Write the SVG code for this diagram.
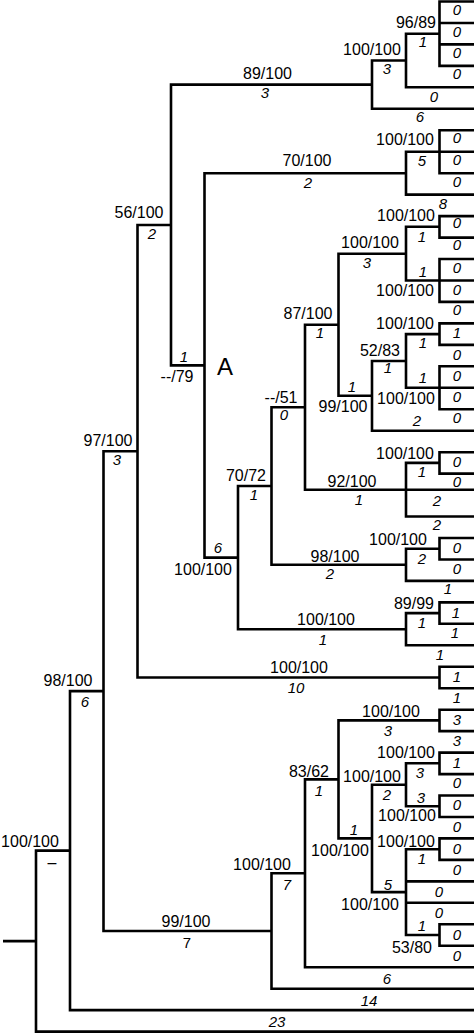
<svg xmlns="http://www.w3.org/2000/svg" width="474" height="1034" viewBox="0 0 474 1034">
<style>
.b{fill:none;stroke:#000;stroke-width:2.6;stroke-linejoin:miter;stroke-linecap:butt}
.s{font-family:"Liberation Sans",Arial,sans-serif;font-size:16px;text-anchor:middle;fill:#000}
.l{font-family:"Liberation Sans",Arial,sans-serif;font-size:15px;font-style:italic;text-anchor:middle;fill:#000}
.u{font-family:"Liberation Sans",Arial,sans-serif;font-size:15px;text-anchor:middle;fill:#000}
.a{font-family:"Liberation Sans",Arial,sans-serif;font-size:24px;text-anchor:middle;fill:#000}
</style>
<rect width="474" height="1034" fill="#fff"/>
<g id="connectors" class="b">
<path d="M3 941.1H36"/>
<path d="M70 850.6H36V1031.6H476"/>
<path d="M103.5 691.1H70V1010.1H476"/>
<path d="M137.5 451.2H103.5V931H271.5"/>
<path d="M171 225H137.5V677.5H439.5"/>
<path d="M372 84.6H171V365.4H204.5"/>
<path d="M406 60.5H372V108.8H476"/>
<path d="M439.5 33.7H406V87.3H476"/>
<path d="M476 1.5H439.5V65.9H476M439.5 23H476M439.5 44.4H476"/>
<path d="M406 173.2H204.5V557.6H238"/>
<path d="M439.5 151.7H406V194.6H476"/>
<path d="M476 130.3H439.5V173.2H476M439.5 151.7H476"/>
<path d="M271.5 486H238V629.2H406"/>
<path d="M305 407.2H271.5V564.8H406"/>
<path d="M338.5 324.7H305V489.7H406"/>
<path d="M406 253.7H338.5V395.8H372"/>
<path d="M439.5 226.8H406V280.5H439.5"/>
<path d="M476 216.1H439.5V237.6H476"/>
<path d="M476 259H439.5V301.9H476M439.5 280.5H476"/>
<path d="M406 361H372V430.7H476"/>
<path d="M439.5 334.1H406V387.8H439.5"/>
<path d="M476 323.4H439.5V344.9H476"/>
<path d="M476 366.3H439.5V409.2H476M439.5 387.8H476"/>
<path d="M439.5 462.9H406V516.5H476M406 489.7H476"/>
<path d="M476 452.2H439.5V473.6H476"/>
<path d="M439.5 548.7H406V580.9H476"/>
<path d="M476 538H439.5V559.5H476"/>
<path d="M439.5 613.1H406V645.3H476"/>
<path d="M476 602.4H439.5V623.8H476"/>
<path d="M476 666.8H439.5V688.2H476"/>
<path d="M305 873.3H271.5V988.7H476"/>
<path d="M338.5 779.4H305V967.2H476"/>
<path d="M439.5 720.4H338.5V838.4H372"/>
<path d="M476 709.7H439.5V731.1H476"/>
<path d="M406 784.8H372V892.1H406"/>
<path d="M439.5 763.3H406V806.3H439.5"/>
<path d="M476 752.6H439.5V774.1H476"/>
<path d="M476 795.5H439.5V817H476"/>
<path d="M439.5 849.2H406V935H439.5M406 881.4H476M406 902.8H476"/>
<path d="M476 838.4H439.5V859.9H476"/>
<path d="M476 924.3H439.5V945.7H476"/>
</g>
<g id="n-root"><text class="s" x="30" y="846.7">100/100</text><text class="s" x="52" y="867.5">–</text><text class="l" x="277" y="1027">23</text></g>
<g id="n-ingroup"><text class="s" x="68" y="685.7">98/100</text><text class="l" x="85" y="707">6</text><text class="l" x="369" y="1006">14</text></g>
<g id="n-97"><text class="s" x="108" y="445.7">97/100</text><text class="l" x="117" y="465">3</text></g>
<g id="n-56"><text class="s" x="139" y="217.7">56/100</text><text class="l" x="152" y="239">2</text></g>
<g id="n-89"><text class="s" x="267.5" y="78.7">89/100</text><text class="l" x="265" y="98">3</text><text class="l" x="420" y="122">6</text></g>
<g id="n-100a"><text class="s" x="372" y="54.7">100/100</text><text class="l" x="387" y="74">3</text><text class="l" x="434" y="102">0</text></g>
<g id="n-96"><text class="s" x="416" y="27.7">96/89</text><text class="l" x="423" y="47">1</text><text class="l" x="457" y="15">0</text><text class="l" x="457" y="37">0</text><text class="l" x="457" y="58">0</text><text class="l" x="457" y="79">0</text></g>
<g id="n-A"><text class="l" x="184" y="362">1</text><text class="s" x="177" y="381.7">--/79</text><text class="a" x="225" y="374.6">A</text></g>
<g id="n-70"><text class="s" x="307" y="165.7">70/100</text><text class="l" x="308" y="188">2</text><text class="l" x="443" y="209">8</text></g>
<g id="n-100b"><text class="s" x="405" y="144.7">100/100</text><text class="l" x="422" y="166">5</text><text class="l" x="457" y="143">0</text><text class="l" x="457" y="165">0</text><text class="l" x="457" y="187">0</text></g>
<g id="n-100c"><text class="l" x="218" y="553">6</text><text class="s" x="203" y="574.7">100/100</text></g>
<g id="n-7072"><text class="s" x="246" y="480.7">70/72</text><text class="l" x="254" y="500">1</text></g>
<g id="n-51"><text class="s" x="281" y="402.7">--/51</text><text class="l" x="284" y="420">0</text></g>
<g id="n-87"><text class="s" x="308" y="318.7">87/100</text><text class="l" x="320" y="338">1</text></g>
<g id="n-100d"><text class="s" x="370" y="247.7">100/100</text><text class="l" x="367" y="268">3</text></g>
<g id="n-100e"><text class="s" x="406" y="220.7">100/100</text><text class="l" x="422" y="242">1</text><text class="l" x="457" y="228">0</text><text class="l" x="457" y="250">0</text></g>
<g id="n-100f"><text class="l" x="423" y="277">1</text><text class="s" x="405" y="295.7">100/100</text><text class="l" x="457" y="273">0</text><text class="l" x="457" y="295">0</text><text class="l" x="457" y="315">0</text></g>
<g id="n-99"><text class="l" x="352" y="392">1</text><text class="s" x="343" y="411.7">99/100</text><text class="l" x="417" y="426">2</text></g>
<g id="n-52"><text class="s" x="380" y="355.7">52/83</text><text class="l" x="388" y="373">1</text></g>
<g id="n-100g"><text class="s" x="405" y="328.7">100/100</text><text class="l" x="423" y="348">1</text><text class="l" x="457" y="338">1</text><text class="l" x="457" y="360">0</text></g>
<g id="n-100h"><text class="l" x="423" y="383">1</text><text class="s" x="406" y="403.7">100/100</text><text class="l" x="457" y="381">0</text><text class="l" x="457" y="402">0</text><text class="l" x="457" y="423">0</text></g>
<g id="n-92"><text class="s" x="352" y="486.7">92/100</text><text class="l" x="359" y="505">1</text><text class="l" x="437" y="506">2</text><text class="l" x="437" y="530">2</text></g>
<g id="n-100i"><text class="s" x="405" y="458.7">100/100</text><text class="l" x="422" y="477">1</text><text class="l" x="457" y="467">0</text><text class="l" x="457" y="487">0</text></g>
<g id="n-98"><text class="s" x="335" y="561.7">98/100</text><text class="l" x="330" y="579">2</text><text class="l" x="448" y="594">1</text></g>
<g id="n-100j"><text class="s" x="398" y="544.7">100/100</text><text class="l" x="422" y="564">2</text><text class="l" x="457" y="553">0</text><text class="l" x="457" y="574">0</text></g>
<g id="n-100k"><text class="s" x="326" y="624.7">100/100</text><text class="l" x="323" y="645">1</text><text class="l" x="440" y="660">1</text></g>
<g id="n-89b"><text class="s" x="414" y="608.7">89/99</text><text class="l" x="422" y="628">1</text><text class="l" x="456" y="618">1</text><text class="l" x="455" y="638">1</text></g>
<g id="n-100l"><text class="s" x="299" y="672.7">100/100</text><text class="l" x="296" y="693">10</text><text class="l" x="457" y="682">1</text><text class="l" x="457" y="703">1</text></g>
<g id="n-99b"><text class="s" x="186" y="926.7">99/100</text><text class="u" x="187" y="948">7</text></g>
<g id="n-100m"><text class="s" x="262" y="869.7">100/100</text><text class="l" x="287" y="890">7</text><text class="l" x="387" y="984">6</text></g>
<g id="n-83"><text class="s" x="309" y="776.7">83/62</text><text class="l" x="319" y="796">1</text></g>
<g id="n-100n"><text class="s" x="391" y="716.7">100/100</text><text class="l" x="388" y="736">3</text><text class="l" x="457" y="725">3</text><text class="l" x="457" y="746">3</text></g>
<g id="n-100o"><text class="l" x="354" y="835">1</text><text class="s" x="340" y="855.7">100/100</text></g>
<g id="n-100p"><text class="s" x="372" y="781.7">100/100</text><text class="l" x="387" y="800">2</text></g>
<g id="n-100q"><text class="s" x="406" y="757.7">100/100</text><text class="l" x="420" y="778">3</text><text class="l" x="457" y="768">1</text><text class="l" x="457" y="788">0</text></g>
<g id="n-100r"><text class="l" x="421" y="803">3</text><text class="s" x="407" y="820.7">100/100</text><text class="l" x="457" y="810">0</text><text class="l" x="457" y="832">0</text></g>
<g id="n-100s"><text class="l" x="388" y="890">5</text><text class="s" x="370" y="909.7">100/100</text><text class="l" x="439" y="897">0</text><text class="l" x="439" y="918">0</text></g>
<g id="n-100t"><text class="s" x="406" y="846.7">100/100</text><text class="l" x="422" y="864">1</text><text class="l" x="457" y="854">0</text><text class="l" x="457" y="875">0</text></g>
<g id="n-53"><text class="l" x="422" y="931">1</text><text class="s" x="412" y="952.7">53/80</text><text class="l" x="457" y="940">0</text><text class="l" x="457" y="961">0</text></g>
</svg>
